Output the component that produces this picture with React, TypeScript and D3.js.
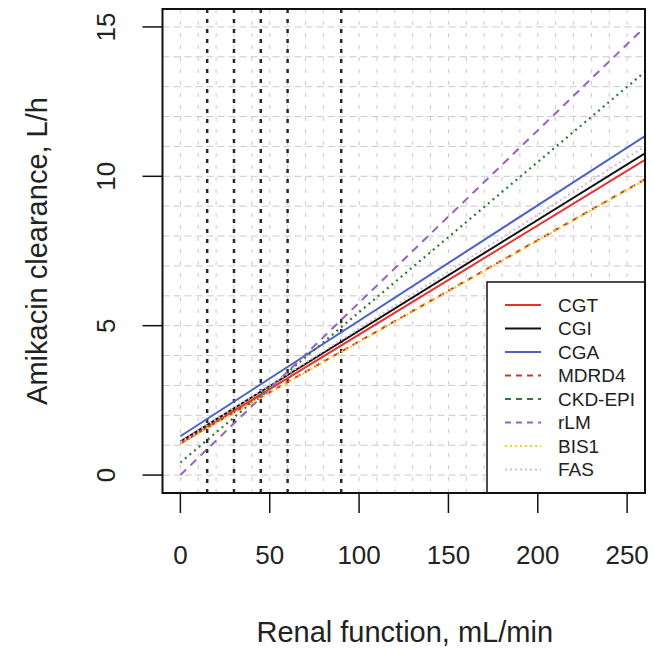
import React from "react";
import * as d3 from "d3";

// Renal function (mL/min) at which each regression line is evaluated
const renalFunction = [0, 260];

// Predicted amikacin clearance (L/h) at each renal-function value
const cgtValues = [1.05, 10.55];
const cgiValues = [1.12, 10.77];
const cgaValues = [1.3, 11.35];
const mdrd4Values = [1.08, 9.9];
const ckdEpiValues = [0.42, 13.5];
const rlmValues = [0.0, 15.0];
const bis1Values = [1.06, 9.88];
const fasValues = [1.1, 11.0];

// CKD stage cut-offs drawn as reference lines
const stageCutoffs = [15, 30, 45, 60, 90];

const xTicks = [0, 50, 100, 150, 200, 250];
const yTicks = [0, 5, 10, 15];

const seriesNames = ["CGT", "CGI", "CGA", "MDRD4", "CKD-EPI", "rLM", "BIS1", "FAS"];
const seriesValues = [cgtValues, cgiValues, cgaValues, mdrd4Values, ckdEpiValues, rlmValues, bis1Values, fasValues];

type Style = { color: string; dash: string; width: number; legendDash: string };
const styles: Record<string, Style> = {
  CGT: { color: "#e8312f", dash: "", width: 2, legendDash: "" },
  CGI: { color: "#111111", dash: "", width: 2, legendDash: "" },
  CGA: { color: "#4a62c4", dash: "", width: 2, legendDash: "" },
  MDRD4: { color: "#c23b32", dash: "6,5", width: 2, legendDash: "6,5" },
  "CKD-EPI": { color: "#2b7a35", dash: "2,4", width: 2.2, legendDash: "6,5" },
  rLM: { color: "#9c5fc0", dash: "8,6", width: 2, legendDash: "6,5" },
  BIS1: { color: "#f0d020", dash: "2,3", width: 2.2, legendDash: "2,3" },
  FAS: { color: "#dcb8c8", dash: "2,3", width: 2, legendDash: "2,3" },
};

const W = 653;
const H = 650;
const left = 162.5;
const right = 645;
const top = 9;
const bottom = 493;

export default function App() {
  const x = d3.scaleLinear().domain([-10, 260]).range([left, right]);
  const y = d3.scaleLinear().domain([-0.6, 15.6]).range([bottom, top]);
  const line = d3
    .line<number>()
    .x((_, i) => x(renalFunction[i]))
    .y((d) => y(d));

  const gridX = d3.range(0, 261, 10);
  const gridY = d3.range(0, 16, 1);
  const font = "'Liberation Sans', Arial, sans-serif";

  const legendLeft = 487;
  const legendTop = 282;
  const rowStep = 23.5;
  const firstRow = 305;

  return (
    <svg
      width={W}
      height={H}
      style={{ position: "absolute", left: 0, top: 0, background: "#fff" }}
      fontFamily={font}
    >
      <defs>
        <clipPath id="plot-area">
          <rect x={left} y={top} width={right - left} height={bottom - top} />
        </clipPath>
      </defs>
      <rect width={W} height={H} fill="#fff" />

      {/* background grid */}
      <g stroke="#c9c9c9" strokeWidth={1} fill="none">
        {gridY.map((v) => (
          <line key={"gy" + v} x1={left} x2={right} y1={y(v)} y2={y(v)} strokeDasharray="7,4" />
        ))}
        {gridX.map((v) => (
          <line key={"gx" + v} x1={x(v)} x2={x(v)} y1={bottom} y2={top} strokeDasharray="4,8" />
        ))}
      </g>

      {/* CKD stage cut-offs */}
      <g stroke="#2a2a2a" strokeWidth={2.5} fill="none">
        {stageCutoffs.map((v) => (
          <line key={"s" + v} x1={x(v)} x2={x(v)} y1={bottom} y2={top} strokeDasharray="4,6" />
        ))}
      </g>

      {/* regression lines */}
      <g clipPath="url(#plot-area)" fill="none">
        {seriesNames.map((name, i) => {
          const s = styles[name];
          return (
            <path
              key={name}
              d={line(seriesValues[i]) || ""}
              stroke={s.color}
              strokeWidth={s.width}
              strokeDasharray={s.dash || undefined}
            />
          );
        })}
      </g>

      {/* legend */}
      <rect
        x={legendLeft}
        y={legendTop}
        width={right - legendLeft}
        height={bottom - legendTop}
        fill="#fff"
        stroke="#111"
        strokeWidth={1.5}
      />
      {seriesNames.map((name, i) => {
        const s = styles[name];
        const cy = firstRow + i * rowStep;
        return (
          <g key={"lg" + name}>
            <line
              x1={505}
              x2={541}
              y1={cy}
              y2={cy}
              stroke={s.color}
              strokeWidth={2}
              strokeDasharray={s.legendDash || undefined}
            />
            <text x={558} y={cy} dy="0.35em" fontSize={19} fill="#222">
              {name}
            </text>
          </g>
        );
      })}

      {/* frame */}
      <rect x={left} y={top} width={right - left} height={bottom - top} fill="none" stroke="#111" strokeWidth={2} />

      {/* x axis */}
      <g stroke="#111" strokeWidth={1.5}>
        {xTicks.map((v) => (
          <line key={"xt" + v} x1={x(v)} x2={x(v)} y1={bottom} y2={bottom + 20} />
        ))}
      </g>
      {xTicks.map((v) => (
        <text key={"xl" + v} x={x(v)} y={564} textAnchor="middle" fontSize={26} fill="#222">
          {v}
        </text>
      ))}
      <text x={(left + right) / 2 + 1} y={642} textAnchor="middle" fontSize={29} fill="#222">
        Renal function, mL/min
      </text>

      {/* y axis */}
      <g stroke="#111" strokeWidth={1.5}>
        {yTicks.map((v) => (
          <line key={"yt" + v} x1={left - 20} x2={left} y1={y(v)} y2={y(v)} />
        ))}
      </g>
      {yTicks.map((v) => (
        <text
          key={"yl" + v}
          transform={`translate(115,${y(v)}) rotate(-90)`}
          textAnchor="middle"
          fontSize={26}
          fill="#222"
        >
          {v}
        </text>
      ))}
      <text
        transform={`translate(46.5,${(top + bottom) / 2}) rotate(-90)`}
        textAnchor="middle"
        fontSize={29}
        fill="#222"
      >
        Amikacin clearance, L/h
      </text>
    </svg>
  );
}
